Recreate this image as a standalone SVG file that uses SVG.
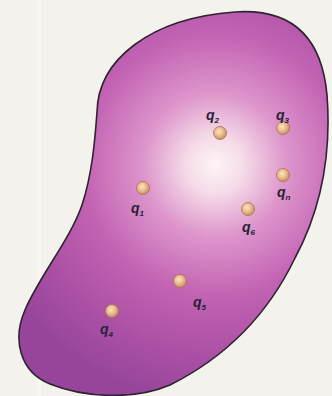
<svg xmlns="http://www.w3.org/2000/svg" width="332" height="396" viewBox="0 0 332 396">
  <defs>
    <radialGradient id="bodyFill" gradientUnits="userSpaceOnUse" cx="215" cy="165" r="240">
      <stop offset="0" stop-color="#fdf5f6"/>
      <stop offset="0.12" stop-color="#f5dbe8"/>
      <stop offset="0.3" stop-color="#dd95cb"/>
      <stop offset="0.55" stop-color="#c262b3"/>
      <stop offset="0.8" stop-color="#aa50a4"/>
      <stop offset="1" stop-color="#96459b"/>
    </radialGradient>
    <radialGradient id="bead" cx="0.42" cy="0.4" r="0.62">
      <stop offset="0" stop-color="#f9e6c8"/>
      <stop offset="0.55" stop-color="#e9b98a"/>
      <stop offset="1" stop-color="#c58a5f"/>
    </radialGradient>
  </defs>
  <style>
    .charge { fill: url(#bead); stroke: #a87452; stroke-width: 0.8; }
    .lbl { font-family: "Liberation Sans", Arial, sans-serif; font-weight: bold; font-style: italic; font-size: 14px; fill: #272238; }
    .sub { font-size: 8px; }
  </style>

  <!-- paper background -->
  <rect width="332" height="396" fill="#f4f2ed"/>
  <rect x="38" y="0" width="3" height="396" fill="#f8f7f4"/>

  <!-- charged body -->
  <g id="body">
    <path d="M 97,112 C 98,60 150,18 235,12 C 295,8 322,40 327,95 C 332,160 318,215 295,258 C 270,310 230,355 170,385 C 135,400 85,398 50,384 C 20,372 12,340 25,310 C 40,275 70,240 82,205 C 92,175 95,140 97,112 Z"
          fill="url(#bodyFill)" stroke="#2e2330" stroke-width="1.6"/>
  </g>

  <!-- point charges -->
  <g id="q1">
    <circle class="charge" cx="143" cy="188" r="6.5"/>
    <text class="lbl" x="131" y="213">q<tspan class="sub" dy="3">1</tspan></text>
  </g>
  <g id="q2">
    <circle class="charge" cx="220" cy="133" r="6.5"/>
    <text class="lbl" x="206" y="120">q<tspan class="sub" dy="3">2</tspan></text>
  </g>
  <g id="q3">
    <circle class="charge" cx="283" cy="128" r="6.5"/>
    <text class="lbl" x="276" y="120">q<tspan class="sub" dy="3">3</tspan></text>
  </g>
  <g id="qn">
    <circle class="charge" cx="283" cy="175" r="6.5"/>
    <text class="lbl" x="277" y="197">q<tspan class="sub" dy="3">n</tspan></text>
  </g>
  <g id="q6">
    <circle class="charge" cx="248" cy="209" r="6.5"/>
    <text class="lbl" x="242" y="232">q<tspan class="sub" dy="3">6</tspan></text>
  </g>
  <g id="q5">
    <circle class="charge" cx="180" cy="281" r="6.5"/>
    <text class="lbl" x="193" y="307">q<tspan class="sub" dy="3">5</tspan></text>
  </g>
  <g id="q4">
    <circle class="charge" cx="112" cy="311" r="6.5"/>
    <text class="lbl" x="100" y="334">q<tspan class="sub" dy="3">4</tspan></text>
  </g>
</svg>
